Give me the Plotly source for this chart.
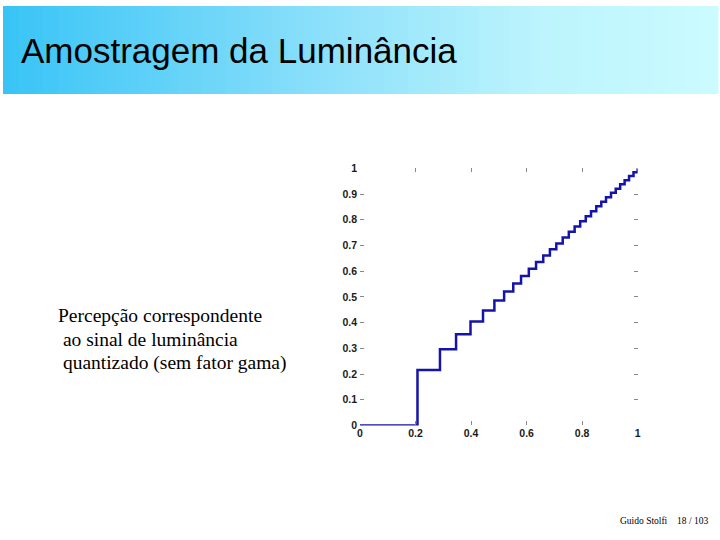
import plotly.graph_objects as go

# Perceived brightness levels of the quantized luminance signal
step_x = [0.207, 0.288, 0.346, 0.398, 0.443, 0.484, 0.519, 0.552, 0.580, 0.608,
          0.634, 0.660, 0.684, 0.707, 0.730, 0.752, 0.773, 0.793, 0.813, 0.832,
          0.851, 0.869, 0.886, 0.904, 0.921, 0.937, 0.953, 0.969, 0.985, 1.000]
step_y = [0.216, 0.296, 0.355, 0.404, 0.447, 0.486, 0.521, 0.552, 0.581, 0.609,
          0.636, 0.661, 0.685, 0.708, 0.731, 0.753, 0.774, 0.794, 0.814, 0.833,
          0.852, 0.870, 0.887, 0.905, 0.921, 0.938, 0.954, 0.970, 0.985, 1.000]
start_x = [0.0]
start_y = [0.0]

x_tickvals = [0, 0.2, 0.4, 0.6, 0.8, 1]
x_ticktext = ["0", "0.2", "0.4", "0.6", "0.8", "1"]
y_tickvals = [0, 0.1, 0.2, 0.3, 0.4, 0.5, 0.6, 0.7, 0.8, 0.9, 1]
y_ticktext = ["0", "0.1", "0.2", "0.3", "0.4", "0.5", "0.6", "0.7", "0.8", "0.9", "1"]

title_text = "Amostragem da Luminância"
caption_lines = ["Percepção correspondente", " ao sinal de luminância", " quantizado (sem fator gama)"]
footer_name = "Guido Stolfi"
footer_page = "18 / 103"

W, H = 720, 540

fig = go.Figure()
fig.add_trace(go.Scatter(
    x=start_x + step_x, y=start_y + step_y,
    mode="lines", line=dict(color="#1414a8", width=2.5, shape="hv"),
    showlegend=False, hoverinfo="skip"))

# gradient banner
stops = [(0.0, (56, 196, 246)), (0.45, (140, 224, 250)), (0.75, (188, 244, 253)), (1.0, (202, 251, 255))]

def col(t):
    for (t0, c0), (t1, c1) in zip(stops[:-1], stops[1:]):
        if t0 <= t <= t1:
            f = (t - t0) / (t1 - t0)
            return "rgb(%d,%d,%d)" % tuple(round(a + (b - a) * f) for a, b in zip(c0, c1))
    return "rgb(%d,%d,%d)" % stops[-1][1]

shapes = []
n = 90
for i in range(n):
    shapes.append(dict(type="rect", xref="paper", yref="paper",
                       x0=i / n, x1=(i + 1) / n + 0.002, y0=1 - 90 / H, y1=1,
                       fillcolor=col((i + 0.5) / n), line=dict(width=0), layer="below"))

annotations = [
    dict(text=title_text, x=16 / W, y=1 - 46 / H, xref="paper", yref="paper",
         xanchor="left", yanchor="middle", showarrow=False,
         font=dict(family="Liberation Sans, Arial", size=35, color="black")),
]
for i, line in enumerate(caption_lines):
    annotations.append(dict(text=line.replace(" ", "&nbsp;", 1) if line.startswith(" ") else line,
                            x=53 / W, y=1 - (317 + 24 * i) / H, xref="paper", yref="paper",
                            xanchor="left", yanchor="middle", showarrow=False,
                            font=dict(family="Liberation Serif, Times New Roman", size=19.5, color="black")))
annotations.append(dict(text=footer_name, x=620 / W, y=1 - 527 / H, xref="paper", yref="paper",
                        xanchor="left", yanchor="middle", showarrow=False,
                        font=dict(family="Liberation Serif, Times New Roman", size=9.5, color="black")))
annotations.append(dict(text=footer_page, x=713 / W, y=1 - 527 / H, xref="paper", yref="paper",
                        xanchor="right", yanchor="middle", showarrow=False,
                        font=dict(family="Liberation Serif, Times New Roman", size=9.5, color="black")))

tickfont = dict(family="Liberation Sans, Arial", size=10.5, color="#1a1a1a", weight="bold")

fig.update_layout(
    width=W, height=H,
    margin=dict(l=0, r=0, t=0, b=0),
    paper_bgcolor="white", plot_bgcolor="white",
    shapes=shapes, annotations=annotations,
    xaxis=dict(domain=[360 / W, 640 / W], range=[0, 1], tickvals=x_tickvals, ticktext=x_ticktext,
               ticks="inside", ticklen=4, tickcolor="#888", tickwidth=1, mirror="ticks",
               showline=False, showgrid=False, zeroline=False, tickfont=tickfont, ticklabelstandoff=0),
    yaxis=dict(domain=[1 - 429 / H, 1 - 166 / H], range=[0, 1], tickvals=y_tickvals, ticktext=y_ticktext,
               ticks="inside", ticklen=4, tickcolor="#888", tickwidth=1, mirror="ticks",
               showline=False, showgrid=False, zeroline=False, tickfont=tickfont, ticklabelstandoff=2),
)

fig.write_html("out.html", config={"displayModeBar": False},
               post_script="document.body.style.margin='0';document.body.style.padding='0';"
                           "var d=document.getElementById('{plot_id}');"
                           "d.style.position='fixed';d.style.top='0px';d.style.left='0px';")
